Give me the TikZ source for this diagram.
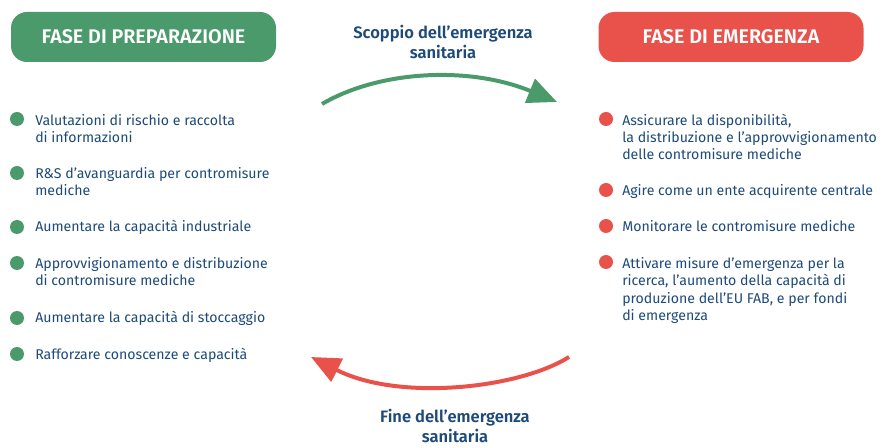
\documentclass[tikz,border=0pt]{standalone}
\usepackage{fontspec}
\setmainfont{Fira Sans}
\newfontfamily\semib{Fira Sans SemiBold}
\usetikzlibrary{arrows.meta}
\definecolor{ink}{HTML}{1D4A78}
\definecolor{pgreen}{HTML}{4A9A6B}
\definecolor{pred}{HTML}{E8524A}
\tikzset{
  phase/.style={rectangle, rounded corners=12pt, minimum width=198.75pt, minimum height=37.5pt, text=white, font=\fontsize{14.8}{16}\selectfont\semib, inner sep=0pt},
  item/.style={anchor=base west, inner sep=0pt, align=left, text=ink, font=\fontsize{10.6}{13.1}\selectfont},
  gdot/.style={circle, fill=pgreen, minimum size=10.5pt, inner sep=0pt},
  rdot/.style={circle, fill=pred, minimum size=10.5pt, inner sep=0pt},
  flowlabel/.style={anchor=base, inner sep=0pt, align=center, text=ink, font=\fontsize{12.4}{15}\selectfont\semib},
  flow/.style={line width=3pt, -{Triangle[length=22pt,width=19pt]}}
}
\begin{document}
\begin{tikzpicture}[x=0.75pt,y=-0.75pt]
\useasboundingbox (0,0) rectangle (884,448);
\node[phase, fill=pgreen] (prep) at (143.5,37) {FASE DI PREPARAZIONE};
\node[phase, fill=pred] (emer) at (731,37) {FASE DI EMERGENZA};

% anchors are at the baseline of the LAST line
\node[flowlabel] (l1) at (443,59) {Scoppio dell’emergenza\\sanitaria};
\node[flowlabel] (l2) at (455,442) {Fine dell’emergenza\\sanitaria};

\coordinate (g1) at (322,104);
\coordinate (g2) at (557,102);
\draw[flow, pgreen] (g1) .. controls (380,70) and (470,66) .. (g2);
\coordinate (r1) at (569,357);
\coordinate (r2) at (311,357);
\draw[flow, pred] (r1) .. controls (520,388) and (400,402) .. (r2);

% left items
\node[gdot] (gd1) at (17,119) {};
\node[item] (gt1) at (35,142.5) {Valutazioni di rischio e raccolta\\di informazioni};
\node[gdot] (gd2) at (17,173) {};
\node[item] (gt2) at (35,195.5) {R\&S d’avanguardia per contromisure\\mediche};
\node[gdot] (gd3) at (17,227) {};
\node[item] (gt3) at (35,232) {Aumentare la capacità industriale};
\node[gdot] (gd4) at (17,263) {};
\node[item] (gt4) at (35,285.5) {Approvvigionamento e distribuzione\\di contromisure mediche};
\node[gdot] (gd5) at (17,318) {};
\node[item] (gt5) at (35,323) {Aumentare la capacità di stoccaggio};
\node[gdot] (gd6) at (17,354) {};
\node[item] (gt6) at (35,359) {Rafforzare conoscenze e capacità};

% right items
\node[rdot] (rd1) at (606,119) {};
\node[item] (rt1) at (622,160) {Assicurare la disponibilità,\\la distribuzione e l’approvvigionamento\\delle contromisure mediche};
\node[rdot] (rd2) at (606,190) {};
\node[item] (rt2) at (622,196) {Agire come un ente acquirente centrale};
\node[rdot] (rd3) at (606,226) {};
\node[item] (rt3) at (622,232) {Monitorare le contromisure mediche};
\node[rdot] (rd4) at (606,262) {};
\node[item] (rt4) at (622,320.5) {Attivare misure d’emergenza per la\\ricerca, l’aumento della capacità di\\produzione dell’EU FAB, e per fondi\\di emergenza};
\end{tikzpicture}
\end{document}
